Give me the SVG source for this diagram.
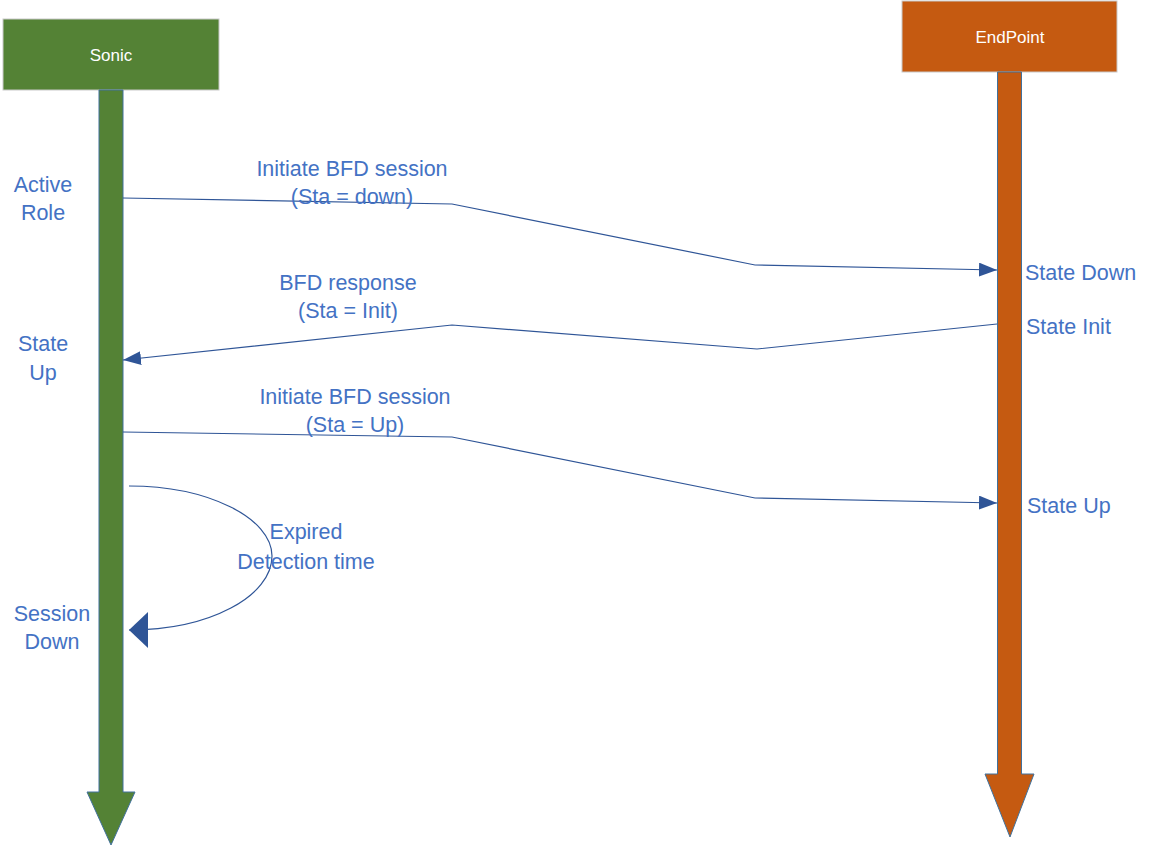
<svg xmlns="http://www.w3.org/2000/svg" width="1151" height="848" viewBox="0 0 1151 848">
<style>
.lbl{font-family:"Liberation Sans",Arial,sans-serif;font-size:21.5px;fill:#4472C4}
.hdr{font-family:"Liberation Sans",Arial,sans-serif;font-size:17px;fill:#FFFFFF;text-anchor:middle}
.conn{fill:none;stroke:#2F5597;stroke-width:1.2}
.mid{text-anchor:middle}
</style>
<defs>
<marker id="arr" markerUnits="userSpaceOnUse" markerWidth="19" markerHeight="15" refX="18" refY="7" orient="auto">
<path d="M0,0 L18,7 L0,14 z" fill="#2F5597"/>
</marker>
<marker id="bigarr" markerUnits="userSpaceOnUse" markerWidth="20" markerHeight="37" refX="19" refY="18" orient="auto">
<path d="M0,0 L19,18 L0,36 z" fill="#2F5597"/>
</marker>
</defs>
<rect width="1151" height="848" fill="#FFFFFF"/>
<g id="sonic">
<rect x="3" y="19" width="216" height="71" fill="#548235" stroke="#C9C9C9" stroke-width="1"/>
<text class="hdr" x="111" y="61">Sonic</text>
<polygon points="99,90 123,90 123,792 135,792 111,845 87,792 99,792" fill="#548235" stroke="#41719C" stroke-width="1"/>
</g>
<g id="endpoint">
<rect x="902" y="1" width="215" height="71" fill="#C55A11" stroke="#C9C9C9" stroke-width="1"/>
<text class="hdr" x="1010" y="43">EndPoint</text>
<polygon points="997.5,72 1021.5,72 1021.5,774 1034,774 1010,837 985,774 997.5,774" fill="#C55A11" stroke="#41719C" stroke-width="1"/>
</g>
<g id="connectors">
<path class="conn" d="M123,198 L452,204 L755,265 L997,270" marker-end="url(#arr)"/>
<path class="conn" d="M997,324 L757,349 L452,325 L123,360" marker-end="url(#arr)"/>
<path class="conn" d="M123,432 L452,437 L755,498 L997,503" marker-end="url(#arr)"/>
<path class="conn" d="M129,486 C208,486 272,518 272,556 C272,596 210,630 129,630" marker-end="url(#bigarr)"/>
</g>
<g id="labels">
<text class="lbl mid" x="43" y="192">Active</text>
<text class="lbl mid" x="43" y="220">Role</text>
<text class="lbl mid" x="352" y="176">Initiate BFD session</text>
<text class="lbl mid" x="352" y="204">(Sta = down)</text>
<text class="lbl" x="1025" y="280">State Down</text>
<text class="lbl mid" x="348" y="290">BFD response</text>
<text class="lbl mid" x="348" y="318">(Sta = Init)</text>
<text class="lbl" x="1026" y="334">State Init</text>
<text class="lbl mid" x="43" y="351">State</text>
<text class="lbl mid" x="43" y="380">Up</text>
<text class="lbl mid" x="355" y="404">Initiate BFD session</text>
<text class="lbl mid" x="355" y="432">(Sta = Up)</text>
<text class="lbl" x="1027" y="513">State Up</text>
<text class="lbl mid" x="306" y="539">Expired</text>
<text class="lbl mid" x="306" y="569">Detection time</text>
<text class="lbl mid" x="52" y="621">Session</text>
<text class="lbl mid" x="52" y="649">Down</text>
</g>
</svg>
